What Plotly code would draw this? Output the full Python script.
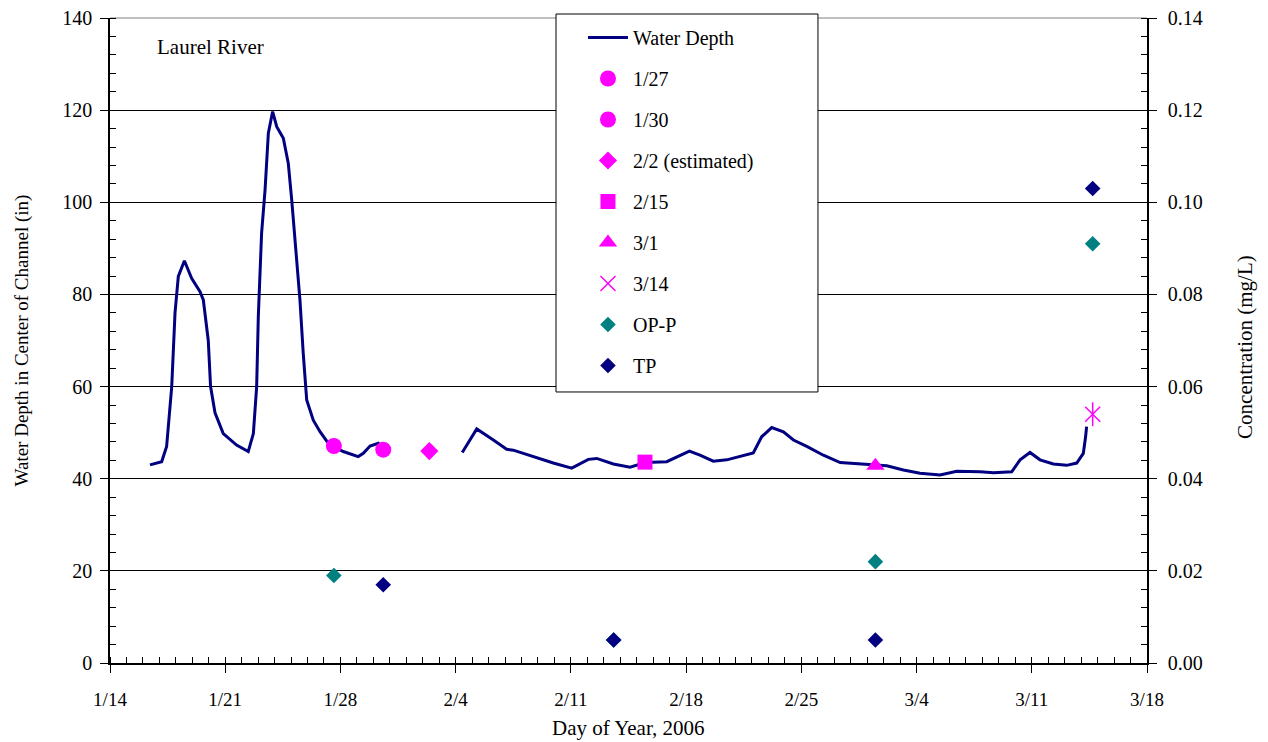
import pandas as pd
import plotly.graph_objects as go

# Water depth record (day of year 2006, depth in inches); None marks the data gap
depth_doy = [16.43, 17.14, 17.44, 17.75, 17.95, 18.15, 18.52, 18.96, 19.47, 19.67,
             19.97, 20.11, 20.38, 20.88, 21.69, 22.40, 22.71, 22.91, 23.01, 23.21,
             23.42, 23.62, 23.88, 24.13, 24.53, 24.83, 25.04, 25.34, 25.54, 25.74,
             25.95, 26.35, 26.76, 27.16, 27.57, 28.17, 29.08, 29.39, 29.80, 30.30,
             30.55, 32.0,
             35.40, 36.28, 37.29, 38.10, 38.50, 39.72, 40.93, 42.05, 43.06, 43.57,
             44.58, 45.59, 46.54, 47.82, 48.63, 49.20, 49.84, 50.65, 51.47, 52.27,
             53.08, 53.59, 54.20, 54.91, 55.52, 56.33, 57.34, 58.36, 59.56, 61.19,
             62.20, 63.21, 64.43, 65.44, 66.86, 67.67, 68.78, 69.29, 69.89, 70.50,
             71.31, 72.12, 72.73, 73.13, 73.27, 73.33]
depth_in = [43.0, 43.7, 47.0, 60.0, 76.0, 83.9, 87.3, 83.5, 80.6, 78.8,
            70.0, 60.0, 54.3, 49.8, 47.3, 45.9, 49.8, 60.0, 75.2, 93.3,
            102.7, 115.0, 119.7, 116.4, 113.9, 108.5, 100.5, 88.2, 78.8, 67.2,
            57.1, 52.7, 50.2, 48.2, 47.0, 45.9, 44.8, 45.5, 47.1, 47.7,
            46.8, None,
            45.7, 50.8, 48.4, 46.4, 46.2, 44.8, 43.4, 42.3, 44.2, 44.4,
            43.2, 42.5, 43.5, 43.7, 45.1, 46.0, 45.1, 43.8, 44.1, 44.9,
            45.6, 49.1, 51.1, 50.2, 48.4, 47.0, 45.1, 43.5, 43.2, 42.8,
            41.9, 41.2, 40.8, 41.6, 41.5, 41.3, 41.5, 44.1, 45.7, 44.1,
            43.2, 42.9, 43.4, 45.5, 49.1, 51.3]

# Sampling events (day of year, depth at sampling)
sample_names = ["1/27", "1/30", "2/2 (estimated)", "2/15", "3/1", "3/14"]
sample_doy = [27.6, 30.6, 33.4, 46.5, 60.5, 73.7]
sample_depth = [47.1, 46.3, 46.0, 43.6, 42.8, 54.0]

# Concentrations (mg/L)
opp_doy = [27.6, 44.6, 60.5, 73.7]
opp_conc = [0.019, 0.005, 0.022, 0.091]
tp_doy = [30.6, 44.6, 60.5, 73.7]
tp_conc = [0.017, 0.005, 0.005, 0.103]

x_ticks_start = "2006-01-14"
x_range = ["2006-01-14", "2006-03-18"]

base = pd.Timestamp("2006-01-01")


def to_dt(doys):
    return [base + pd.to_timedelta(d - 1, unit="D") for d in doys]


FONT = "Liberation Serif"
MAG = "#FF00FF"
NAVY = "#000080"
TEAL = "#008080"

fig = go.Figure()

fig.add_trace(go.Scatter(
    x=to_dt(depth_doy), y=depth_in, mode="lines", name="Water Depth",
    line=dict(color=NAVY, width=3), connectgaps=False, legendgroup="g0"))

symbols = ["circle", "circle", "diamond", "square", "triangle-up", "x-thin-open"]
sizes = [16, 16, 14, 15, 16, 15]
for i, (nm, d, v) in enumerate(zip(sample_names, sample_doy, sample_depth)):
    mk = dict(color=MAG, size=sizes[i], symbol=symbols[i])
    if symbols[i].endswith("open"):
        mk["line"] = dict(color=MAG, width=1.5)
    else:
        mk["line"] = dict(width=0)
    fig.add_trace(go.Scatter(x=to_dt([d]), y=[v], mode="markers", name=nm,
                             marker=mk, legendgroup="g%d" % (i + 1)))
    if symbols[i] == "x-thin-open":
        fig.add_trace(go.Scatter(x=to_dt([d]), y=[v], mode="markers",
                                 marker=dict(color=MAG, size=17, symbol="line-ns-open",
                                             line=dict(color=MAG, width=1.5)),
                                 showlegend=False, hoverinfo="skip"))

fig.add_trace(go.Scatter(x=to_dt(opp_doy), y=opp_conc, mode="markers", name="OP-P",
                         marker=dict(color=TEAL, size=12, symbol="diamond", line=dict(width=0)),
                         yaxis="y2", legendgroup="g7"))
fig.add_trace(go.Scatter(x=to_dt(tp_doy), y=tp_conc, mode="markers", name="TP",
                         marker=dict(color=NAVY, size=12, symbol="diamond", line=dict(width=0)),
                         yaxis="y2", legendgroup="g8"))

# The page body adds an 8px offset, so the figure is 8px smaller than the window.
fig.update_layout(
    width=1260, height=734,
    margin=dict(l=102, r=121, t=10, b=79),
    paper_bgcolor="white", plot_bgcolor="white",
    font=dict(family=FONT, size=19, color="black"),
    showlegend=True,
    legend=dict(x=0.4561, y=1.0, xanchor="left", yanchor="top",
                bgcolor="rgba(0,0,0,0)", borderwidth=0,
                font=dict(family=FONT, size=20, color="black"),
                tracegroupgap=12, itemwidth=40,
                traceorder="grouped"),
    xaxis=dict(type="date", range=x_range, tick0=x_ticks_start, dtick=7 * 86400000,
               tickformat="%-m/%-d", showgrid=False, showline=True, linecolor="black",
               linewidth=1.5, ticks="outside", ticklen=8, tickcolor="black",
               minor=dict(dtick=86400000, tick0=x_ticks_start, ticks="inside",
                          ticklen=6, tickcolor="black", showgrid=False),
               tickfont=dict(size=19), zeroline=False, automargin=False,
               ticklabelstandoff=10, ticklabeloverflow="allow"),
    yaxis=dict(range=[0, 140], dtick=20, showgrid=True, gridcolor="black", gridwidth=1,
               showline=True, linecolor="black", linewidth=1.5, ticks="outside",
               ticklen=8, tickcolor="black", zeroline=False, automargin=False,
               minor=dict(dtick=4, ticks="inside", ticklen=6, tickcolor="black", showgrid=False),
               tickfont=dict(size=20), ticklabelstandoff=4, ticklabeloverflow="allow"),
    yaxis2=dict(range=[0, 0.14], dtick=0.02, tickformat=".2f", overlaying="y", side="right",
                showgrid=False, showline=True, linecolor="black", linewidth=1.5,
                ticks="outside", ticklen=8, tickcolor="black", zeroline=False,
                automargin=False,
                minor=dict(dtick=0.004, ticks="inside", ticklen=6, tickcolor="black"),
                tickfont=dict(size=20), ticklabelstandoff=7, ticklabeloverflow="allow"),
    shapes=[
        dict(type="line", xref="paper", yref="paper", x0=0, x1=1, y0=1, y1=1,
             line=dict(color="#808080", width=1), layer="below"),
        dict(type="rect", xref="paper", yref="paper", x0=0.4301, x1=0.6827,
             y0=0.4202, y1=1.0062, fillcolor="white",
             line=dict(color="black", width=1), layer="above"),
    ],
    annotations=[
        dict(text="Laurel River", xref="paper", yref="paper", x=0.043, y=0.955,
             xanchor="left", yanchor="middle", showarrow=False,
             font=dict(family=FONT, size=21, color="black")),
        dict(text="Day of Year, 2006", xref="paper", yref="paper", x=0.5, y=-0.101,
             xanchor="center", yanchor="middle", showarrow=False,
             font=dict(family=FONT, size=21, color="black")),
        dict(text="Water Depth in Center of Channel (in)", xref="paper", yref="paper",
             x=-0.0849, y=0.50, xanchor="center", yanchor="middle", textangle=-90,
             showarrow=False, font=dict(family=FONT, size=19, color="black")),
        dict(text="Concentration (mg/L)", xref="paper", yref="paper",
             x=1.0945, y=0.49, xanchor="center", yanchor="middle", textangle=-90,
             showarrow=False, font=dict(family=FONT, size=21, color="black")),
    ],
)

fig.write_html("out.html")
